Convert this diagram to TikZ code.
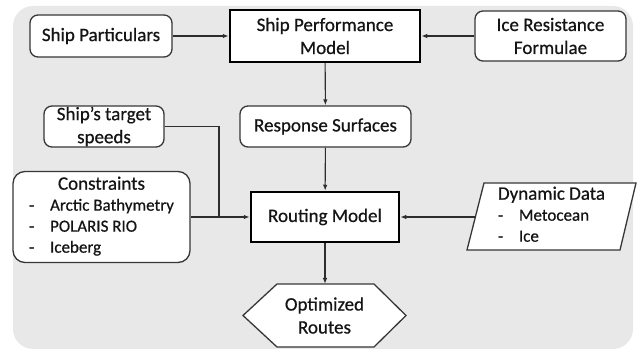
\documentclass[tikz,border=0pt]{standalone}
\usepackage{fontspec}
\setmainfont{Carlito}[FakeBold=0.6]
\usetikzlibrary{arrows.meta}
\definecolor{bgc}{RGB}{232,232,232}
\definecolor{boxc}{RGB}{55,55,55}
\definecolor{txt}{RGB}{20,20,20}
\definecolor{linec}{RGB}{45,45,45}
\begin{document}
\begin{tikzpicture}[x=1pt,y=-1pt,
  box/.style={draw=boxc, fill=white, line width=1.3pt, rounded corners=8pt, align=center, inner sep=0pt, font=\fontsize{19}{23}\selectfont, text=txt},
  mainbox/.style={draw=black, fill=white, line width=2.5pt, align=center, inner sep=0pt, font=\fontsize{19}{23}\selectfont, text=txt},
  shapeline/.style={draw=boxc, fill=white, line width=1.3pt, line join=miter},
  plain/.style={inner sep=0pt, text=txt, align=center, font=\fontsize{19}{23}\selectfont},
  arr/.style={draw=linec, line width=1.1pt, -{Latex[length=6pt,width=4.5pt]}},
  ln/.style={draw=linec, line width=1.1pt}]
\useasboundingbox (0,0) rectangle (638,352);
\fill[bgc, rounded corners=20pt] (13,6) rectangle (633,349);

\node[box, minimum width=142pt, minimum height=42pt] (sp) at (101,36) {Ship Particulars};
\node[mainbox, minimum width=190pt, minimum height=52pt] (spm) at (325,36) {Ship Performance\\Model};
\node[box, minimum width=151pt, minimum height=50pt] (irf) at (550.5,36) {Ice Resistance\\Formulae};
\node[box, minimum width=120pt, minimum height=41pt] (tsp) at (104,126.5) {Ship’s target\\speeds};
\node[box, minimum width=171pt, minimum height=41pt] (rs) at (325.5,126.5) {Response Surfaces};
\node[box, rounded corners=12pt, minimum width=177pt, minimum height=91pt] (con) at (101.5,217) {%
  \fontsize{17}{21}\selectfont
  \begin{tabular}{@{}p{21pt}@{}l@{}}
  \multicolumn{2}{@{}c@{}}{\fontsize{19}{21}\selectfont Constraints}\\
  -& Arctic Bathymetry\\
  -& POLARIS RIO\\
  -& Iceberg
  \end{tabular}};
\node[mainbox, minimum width=148pt, minimum height=50pt] (rm) at (325,217) {Routing Model};

% dynamic data parallelogram
\draw[shapeline] (467,250) -- (484,183) -- (636,183) -- (620,250) -- cycle;
\node[plain] (dd) at (551.5,216.5) {%
  \fontsize{17}{21}\selectfont
  \begin{tabular}{@{}p{21pt}@{}l@{}}
  \multicolumn{2}{@{}l@{}}{\fontsize{19}{21}\selectfont Dynamic Data}\\
  -& Metocean\\
  -& Ice
  \end{tabular}};
\coordinate (ddw) at (475.5,217);

% optimized routes hexagon
\draw[shapeline] (243,315.5) -- (277,284) -- (374,284) -- (406,315.5) -- (374,347) -- (277,347) -- cycle;
\node[plain] (opt) at (324.5,315.5) {Optimized\\Routes};
\coordinate (optn) at (325,284);

\coordinate (jn) at (219,217);

\draw[arr] (sp) -- (spm);
\draw[arr] (irf) -- (spm);
\draw[arr] (spm) -- (rs);
\draw[arr] (rs) -- (rm);
\draw[ln] (tsp.east) -| (jn);
\draw[arr] (con.east) -- (rm.west);
\draw[arr] (ddw) -- (rm.east);
\draw[arr] (rm.south) -- (optn);
\end{tikzpicture}
\end{document}
